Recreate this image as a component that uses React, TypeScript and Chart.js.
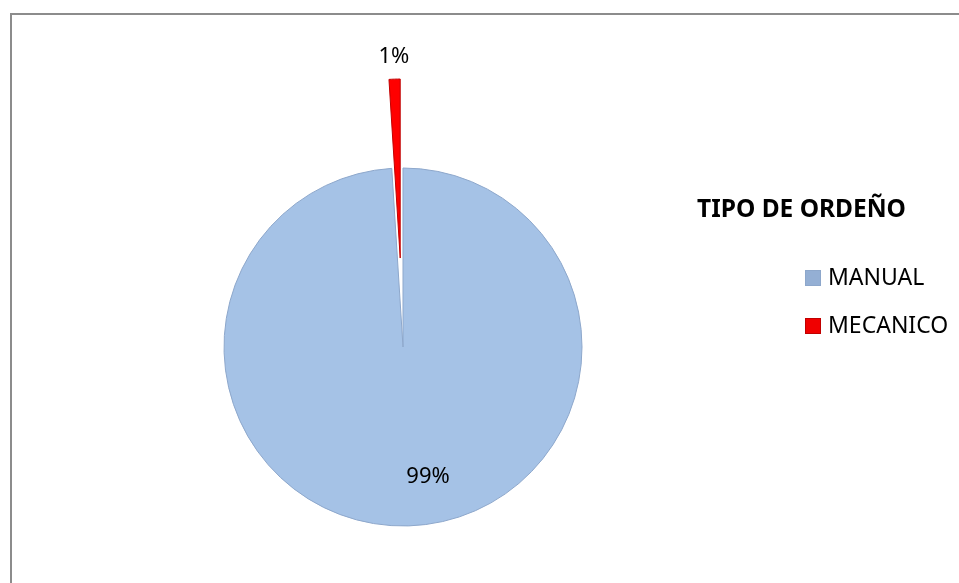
import React, { useEffect, useRef } from 'react';
import { Chart, registerables } from 'chart.js';

Chart.register(...registerables);

const TITLE = 'TIPO DE ORDEÑO';
const categories = ['MANUAL', 'MECANICO'];
const values = [99, 1];
const percentLabels = ['99%', '1%'];
const colors = ['#A5C2E6', '#FF0000'];
const borderColors = ['#8DA7CB', '#C00000'];
const legendColors = ['#94AFD4', '#F00000'];
const explode = [0, 89];

export default function App() {
  const ref = useRef<HTMLCanvasElement>(null);

  useEffect(() => {
    document.body.style.margin = '0';
    const canvas = ref.current;
    if (!canvas) return;

    const explodePlugin = {
      id: 'explodeSlices',
      afterDatasetsDraw(chart: any) {
        const ctx = chart.ctx;
        const meta = chart.getDatasetMeta(0);
        meta.data.forEach((arc: any, i: number) => {
          const d = explode[i] || 0;
          if (!d) return;
          const { startAngle, endAngle } = arc.getProps(['startAngle', 'endAngle'], true);
          const mid = (startAngle + endAngle) / 2;
          ctx.save();
          ctx.translate(Math.cos(mid) * d, Math.sin(mid) * d);
          const saved = arc.options;
          arc.options = { ...saved, backgroundColor: colors[i], borderColor: borderColors[i], offset: 0, spacing: 0 };
          arc.draw(ctx);
          arc.options = saved;
          ctx.restore();
        });
      },
    };

    const labelPlugin = {
      id: 'pieLabels',
      afterDatasetsDraw(chart: any) {
        const ctx = chart.ctx;
        const meta = chart.getDatasetMeta(0);
        ctx.save();
        ctx.font = '22px "Noto Sans"';
        ctx.fillStyle = '#000';
        ctx.textAlign = 'center';
        ctx.textBaseline = 'middle';
        meta.data.forEach((arc: any, i: number) => {
          const { x, y, startAngle, endAngle, outerRadius } = arc.getProps(
            ['x', 'y', 'startAngle', 'endAngle', 'outerRadius'],
            true
          );
          const mid = (startAngle + endAngle) / 2;
          const d0 = explode[i] || 0;
          if (d0 > 0) {
            const d = outerRadius + d0 + 22;
            ctx.fillText(percentLabels[i], x + Math.cos(mid) * d, y + Math.sin(mid) * d);
          } else {
            ctx.fillText(percentLabels[i], x + outerRadius * 0.14, y + outerRadius * 0.725);
          }
        });
        ctx.restore();
      },
    };

    const legendPlugin = {
      id: 'sideLegend',
      afterDraw(chart: any) {
        const ctx = chart.ctx;
        ctx.save();
        ctx.fillStyle = '#000';
        ctx.textBaseline = 'middle';
        ctx.textAlign = 'left';
        ctx.font = 'bold 24.5px "Noto Sans"';
        ctx.fillText(TITLE, 697, 210);
        ctx.font = '23px "Noto Sans"';
        chart.data.labels.forEach((lab: string, i: number) => {
          const cy = 278 + i * 48;
          ctx.fillStyle = legendColors[i];
          ctx.fillRect(805, cy - 8, 16, 16);
          ctx.strokeStyle = borderColors[i];
          ctx.lineWidth = 1;
          ctx.strokeRect(805.5, cy - 7.5, 15, 15);
          ctx.fillStyle = '#000';
          ctx.fillText(lab, 828, cy);
        });
        ctx.restore();
      },
    };

    const chart = new Chart(canvas, {
      type: 'pie',
      data: {
        labels: categories,
        datasets: [
          {
            data: values,
            backgroundColor: colors.map((c, i) => (explode[i] ? 'rgba(0,0,0,0)' : c)),
            borderColor: borderColors.map((c, i) => (explode[i] ? 'rgba(0,0,0,0)' : c)),
            borderWidth: 1,
            hoverBorderWidth: 1,
            offset: 0,
            hoverOffset: 0,
            clip: false,
          } as any,
        ],
      },
      options: {
        responsive: false,
        animation: false,
        radius: 179,
        layout: { padding: { left: 0, right: 153, top: 111, bottom: 0 } },
        plugins: {
          legend: { display: false },
          tooltip: { enabled: false },
          title: { display: false },
        },
        events: [],
      } as any,
      plugins: [explodePlugin, labelPlugin, legendPlugin],
    });

    return () => chart.destroy();
  }, []);

  return (
    <div style={{ position: 'relative', width: 959, height: 583, overflow: 'hidden', background: '#fff' }}>
      <div
        style={{
          position: 'absolute',
          left: 10,
          top: 13,
          width: 1000,
          height: 1000,
          borderLeft: '2px solid #8C8C8C',
          borderTop: '2px solid #8C8C8C',
        }}
      />
      <canvas ref={ref} width={959} height={583} style={{ position: 'absolute', left: 0, top: 0 }} />
    </div>
  );
}
